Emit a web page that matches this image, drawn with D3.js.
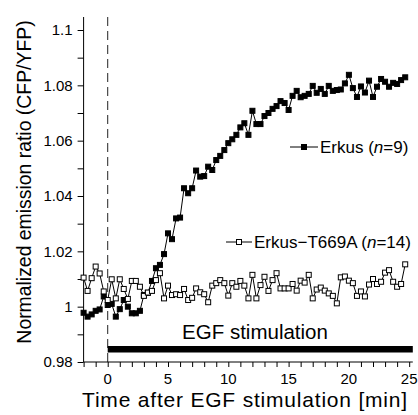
<!DOCTYPE html>
<html>
<head>
<meta charset="utf-8">
<script src="https://cdn.jsdelivr.net/npm/d3@7"></script>
<style>
  body { margin: 0; background: #fff; }
  text { font-family: "Liberation Sans", Arial, sans-serif; fill: #000; }
</style>
</head>
<body>
<div id="chart"></div>
<script>
// time after EGF stimulation [min], sampled every 20 s
const time = [-2, -1.67, -1.33, -1, -0.67, -0.33, 0, 0.33, 0.67, 1, 1.33, 1.67, 2, 2.33, 2.67,
  3, 3.33, 3.67, 4, 4.33, 4.67, 5, 5.33, 5.67, 6, 6.33, 6.67, 7, 7.33, 7.67, 8, 8.33, 8.67,
  9, 9.33, 9.67, 10, 10.33, 10.67, 11, 11.33, 11.67, 12, 12.33, 12.67, 13, 13.33, 13.67,
  14, 14.33, 14.67, 15, 15.33, 15.67, 16, 16.33, 16.67, 17, 17.33, 17.67, 18, 18.33, 18.67,
  19, 19.33, 19.67, 20, 20.33, 20.67, 21, 21.33, 21.67, 22, 22.33, 22.67, 23, 23.33, 23.67,
  24, 24.33, 24.67];

// Erkus (n=9), filled squares
const erkus = [0.9978, 0.9964, 0.9972, 0.9985, 0.9990, 1.0037, 1.0006, 1.0010, 0.9964, 0.9991,
  1.0024, 1.0000, 0.9976, 0.9976, 0.9985, 1.0042, 1.0050, 1.0093, 1.0139, 1.0151, 1.0190,
  1.0265, 1.0244, 1.0319, 1.0322, 1.0428, 1.0410, 1.0428, 1.0492, 1.0470, 1.0472, 1.0506,
  1.0494, 1.0530, 1.0545, 1.0566, 1.0591, 1.0605, 1.0621, 1.0648, 1.0663, 1.0621, 1.0708,
  1.0660, 1.0660, 1.0689, 1.0700, 1.0715, 1.0725, 1.0743, 1.0736, 1.0711, 1.0762, 1.0780,
  1.0757, 1.0762, 1.0769, 1.0798, 1.0773, 1.0787, 1.0769, 1.0798, 1.0780, 1.0783, 1.0785,
  1.0807, 1.0838, 1.0790, 1.0758, 1.0796, 1.0774, 1.0817, 1.0758, 1.0795, 1.0823, 1.0813,
  1.0795, 1.0809, 1.0805, 1.0819, 1.0829];

// Erkus-T669A (n=14), open squares
const t669a = [1.0105, 1.0057, 1.0103, 1.0145, 1.0120, 1.0055, 1.0024, 1.0099, 1.0030, 1.0099,
  1.0064, 1.0028, 1.0093, 1.0093, 1.0072, 1.0039, 1.0051, 1.0057, 1.0096, 1.0121, 1.0030,
  1.0076, 1.0042, 1.0045, 1.0042, 1.0064, 1.0024, 1.0032, 1.0066, 1.0052, 1.0045, 1.0016,
  1.0076, 1.0085, 1.0096, 1.0085, 1.0040, 1.0085, 1.0072, 1.0093, 1.0076, 1.0030, 1.0115,
  1.0030, 1.0078, 1.0108, 1.0057, 1.0096, 1.0121, 1.0066, 1.0066, 1.0066, 1.0082, 1.0058,
  1.0094, 1.0087, 1.0115, 1.0030, 1.0062, 1.0069, 1.0058, 1.0048, 1.0039, 1.0012, 1.0106,
  1.0109, 1.0094, 1.0085, 1.0039, 1.0055, 1.0037, 1.0080, 1.0100, 1.0082, 1.0090, 1.0123,
  1.0132, 1.0090, 1.0072, 1.0082, 1.0153];

const yMajor = [0.98, 1, 1.02, 1.04, 1.06, 1.08, 1.1];
const yMinor = [0.99, 1.01, 1.03, 1.05, 1.07, 1.09];
const xLabels = [0, 5, 10, 15, 20, 25];
const xTicks = d3.range(-2, 26);
const stimStart = 0;

const width = 418;
const height = 415;

const svg = d3.select('#chart')
  .append('svg')
  .attr('width', width)
  .attr('height', height);

const xScale = d3.scaleLinear()
  .domain([-2, 25.3])
  .range([83.6, 412.8]);

const yScale = d3.scaleLinear()
  .domain([0.98, 1.1047])
  .range([362, 17]);

// dashed line at stimulation time
svg.append('line')
  .attr('x1', xScale(stimStart)).attr('x2', xScale(stimStart))
  .attr('y1', yScale.range()[1]).attr('y2', yScale.range()[0])
  .attr('stroke', '#222')
  .attr('stroke-width', 1)
  .attr('stroke-dasharray', '9,5');

// y axis
const yAxis = d3.axisLeft(yScale)
  .tickValues(yMajor)
  .tickSize(6)
  .tickPadding(5)
  .tickFormat(d => d3.format('')(+d.toFixed(2)));

const gy = svg.append('g')
  .attr('transform', `translate(${xScale(-2)},0)`)
  .call(yAxis);
gy.select('.domain').attr('d', `M0,${yScale.range()[0]}V${yScale.range()[1]}`);
gy.selectAll('text').style('font-size', '15px').attr('fill', '#000');

svg.append('g')
  .attr('transform', `translate(${xScale(-2)},0)`)
  .call(d3.axisLeft(yScale).tickValues(yMinor).tickSize(6).tickFormat(''))
  .select('.domain').remove();

// x axis
const gx = svg.append('g')
  .attr('transform', `translate(0,${yScale(0.98)})`)
  .call(d3.axisBottom(xScale)
    .tickValues(xTicks)
    .tickSize(5)
    .tickFormat(''));
gx.select('.domain').attr('d', `M${xScale.range()[0]},0H${xScale.range()[1]}`);

svg.append('g')
  .selectAll('text')
  .data(xLabels)
  .join('text')
  .attr('x', d => xScale(d))
  .attr('y', 384)
  .attr('text-anchor', 'middle')
  .style('font-size', '15px')
  .text(d => d);

// axis titles
svg.append('text')
  .attr('x', 245)
  .attr('y', 407)
  .attr('text-anchor', 'middle')
  .style('font-size', '21px')
  .style('letter-spacing', '0.8px')
  .text('Time after EGF stimulation [min]');

svg.append('text')
  .attr('transform', 'translate(31,182) rotate(-90)')
  .attr('text-anchor', 'middle')
  .style('font-size', '19.4px')
  .text('Normalized emission ratio (CFP/YFP)');

// EGF stimulation bar
svg.append('rect')
  .attr('x', xScale(stimStart))
  .attr('y', 346)
  .attr('width', xScale(25.3) - xScale(stimStart))
  .attr('height', 6.5)
  .attr('fill', '#000');

svg.append('text')
  .attr('x', 255)
  .attr('y', 339)
  .attr('text-anchor', 'middle')
  .style('font-size', '20.5px')
  .text('EGF stimulation');

// series
const line = d3.line()
  .x(d => xScale(d.x))
  .y(d => yScale(d.y));

const erkusData = time.map((t, i) => ({ x: t, y: erkus[i] }));
const t669aData = time.map((t, i) => ({ x: t, y: t669a[i] }));
const sq = 5;

function drawSeries(data, fill) {
  svg.append('path')
    .datum(data)
    .attr('fill', 'none')
    .attr('stroke', '#000')
    .attr('stroke-width', 1)
    .attr('d', line);
  svg.append('g')
    .selectAll('rect')
    .data(data)
    .join('rect')
    .attr('x', d => xScale(d.x) - sq / 2)
    .attr('y', d => yScale(d.y) - sq / 2)
    .attr('width', sq)
    .attr('height', sq)
    .attr('fill', fill)
    .attr('stroke', '#000')
    .attr('stroke-width', 1);
}

drawSeries(erkusData, '#000');
drawSeries(t669aData, '#fff');

// legends
function legendItem(x0, x1, y, fill, label, n) {
  svg.append('line')
    .attr('x1', x0).attr('x2', x1)
    .attr('y1', y).attr('y2', y)
    .attr('stroke', '#000');
  svg.append('rect')
    .attr('x', (x0 + x1) / 2 - sq / 2)
    .attr('y', y - sq / 2)
    .attr('width', sq).attr('height', sq)
    .attr('fill', fill)
    .attr('stroke', '#000');
  const t = svg.append('text')
    .attr('x', x1 + 2)
    .attr('y', y + 6)
    .style('font-size', '17px');
  t.append('tspan').text(label + ' (');
  t.append('tspan').style('font-style', 'italic').text('n');
  t.append('tspan').text('=' + n + ')');
}

legendItem(290, 318, 147, '#000', 'Erkus', 9);
legendItem(226, 252, 242, '#fff', 'Erkus\u2212T669A', 14);
</script>
</body>
</html>
